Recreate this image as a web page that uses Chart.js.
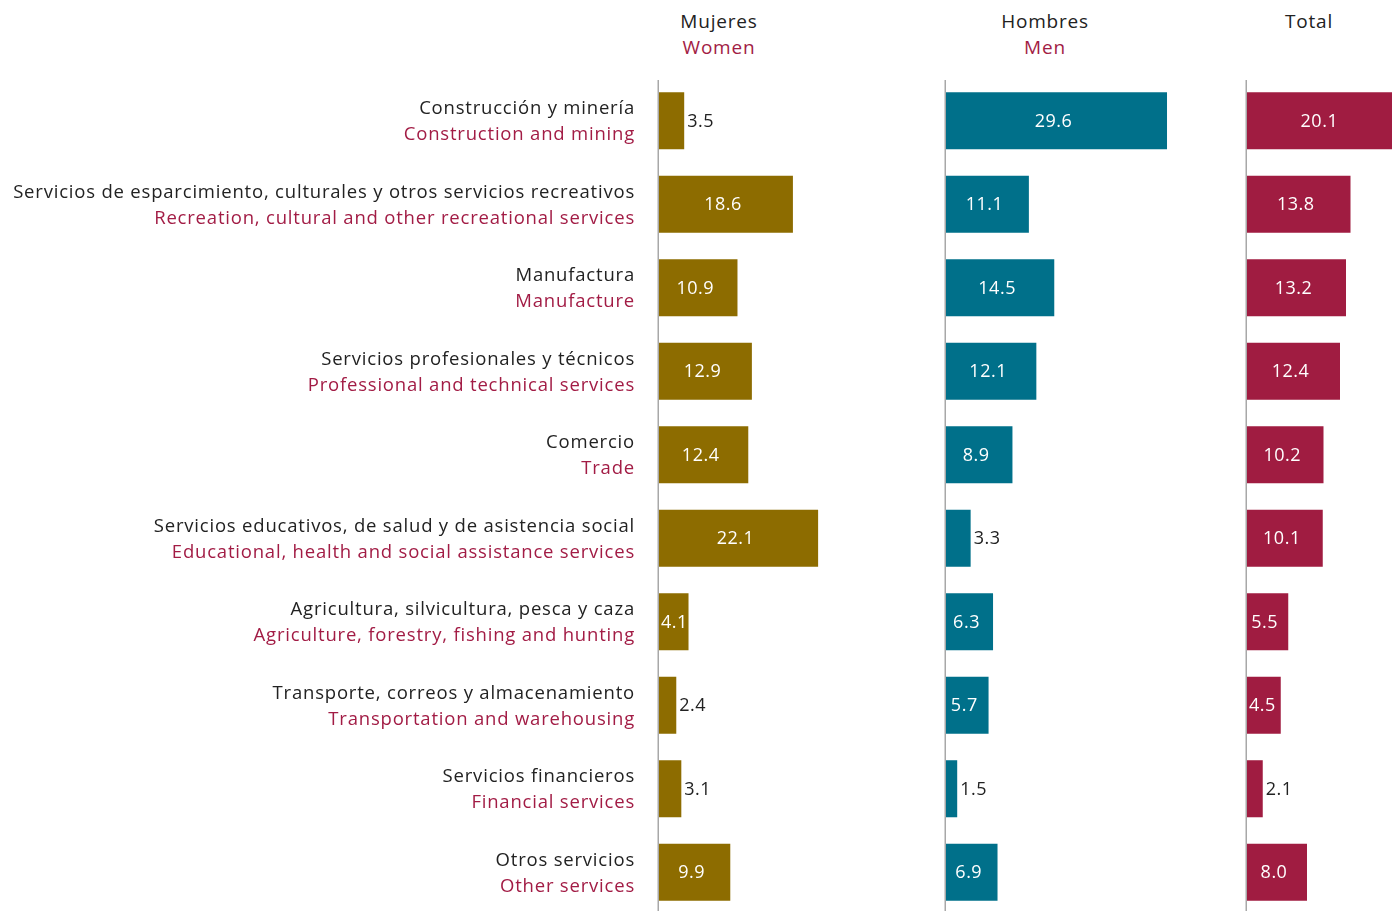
<!DOCTYPE html>
<html>
<head>
<meta charset="utf-8">
<script src="https://cdn.jsdelivr.net/npm/chart.js@4"></script>
<style>
  html, body { margin: 0; padding: 0; width: 1392px; height: 911px; overflow: hidden; background: #fff; }
  body { position: relative; font-family: 'Open Sans', sans-serif; }
  canvas { position: absolute; top: 0; }
  .hdr { position: absolute; top: 8px; width: 200px; text-align: center; font-size: 19px; line-height: 26px; letter-spacing: 0.8px; color: #222; }
  .hdr span { display: block; color: #a21c45; }
</style>
</head>
<body>
<div class="hdr" style="left:619px">Mujeres<span>Women</span></div>
<div class="hdr" style="left:945px">Hombres<span>Men</span></div>
<div class="hdr" style="left:1209px">Total</div>

<canvas id="cWomen" width="875" height="914" style="left:0"></canvas>
<canvas id="cMen" width="270" height="914" style="left:900px"></canvas>
<canvas id="cTotal" width="272" height="914" style="left:1200px"></canvas>

<script>
// Sectors (Spanish / English)
const sectorsEs = [
  'Construcción y minería',
  'Servicios de esparcimiento, culturales y otros servicios recreativos',
  'Manufactura',
  'Servicios profesionales y técnicos',
  'Comercio',
  'Servicios educativos, de salud y de asistencia social',
  'Agricultura, silvicultura, pesca y caza',
  'Transporte, correos y almacenamiento',
  'Servicios financieros',
  'Otros servicios'
];
const sectorsEn = [
  'Construction and mining',
  'Recreation, cultural and other recreational services',
  'Manufacture',
  'Professional and technical services',
  'Trade',
  'Educational, health and social assistance services',
  'Agriculture, forestry, fishing and hunting',
  'Transportation and warehousing',
  'Financial services',
  'Other services'
];

// Percentages
const women = [3.5, 18.6, 10.9, 12.9, 12.4, 22.1, 4.1, 2.4, 3.1, 9.9];
const men   = [29.6, 11.1, 14.5, 12.1, 8.9, 3.3, 6.3, 5.7, 1.5, 6.9];
const total = [20.1, 13.8, 13.2, 12.4, 10.2, 10.1, 5.5, 4.5, 2.1, 8.0];

const FONT = "'Open Sans', sans-serif";
const INSIDE_MIN = 4;

// Vertical baseline at zero for each panel
const axisLine = {
  id: 'axisLine',
  beforeDatasetsDraw(chart) {
    const { ctx, chartArea } = chart;
    const x0 = chart.scales.x.getPixelForValue(0) - 0.75;
    ctx.save();
    ctx.strokeStyle = '#a8a8a8';
    ctx.lineWidth = 1.5;
    ctx.beginPath();
    ctx.moveTo(x0, chartArea.top + 1);
    ctx.lineTo(x0, chartArea.bottom);
    ctx.stroke();
    ctx.restore();
  }
};

// Value labels: inside (white) for wide bars, outside (dark) for short ones
const valueLabels = {
  id: 'valueLabels',
  afterDatasetsDraw(chart) {
    const { ctx } = chart;
    const ds = chart.data.datasets[0];
    const meta = chart.getDatasetMeta(0);
    ctx.save();
    ctx.font = '18px ' + FONT;
    ctx.letterSpacing = '0.5px';
    ctx.textBaseline = 'middle';
    meta.data.forEach((bar, i) => {
      const v = ds.data[i];
      const txt = v.toFixed(1);
      if (v >= INSIDE_MIN) {
        const tw = ctx.measureText(txt).width;
        let cx = (bar.base + bar.x) / 2 - 3;
        if (cx - tw / 2 < bar.base + 2) cx = bar.base + 2 + tw / 2;
        ctx.fillStyle = '#ffffff';
        ctx.textAlign = 'center';
        ctx.fillText(txt, cx, bar.y + 1);
      } else {
        ctx.fillStyle = '#222222';
        ctx.textAlign = 'left';
        ctx.fillText(txt, bar.x + 3, bar.y + 1);
      }
    });
    ctx.restore();
  }
};

// Bilingual sector names to the left of the first panel
const sectorLabels = {
  id: 'sectorLabels',
  afterDraw(chart) {
    const { ctx } = chart;
    const yScale = chart.scales.y;
    ctx.save();
    ctx.font = '18.5px ' + FONT;
    ctx.letterSpacing = '0.8px';
    ctx.textAlign = 'right';
    ctx.textBaseline = 'middle';
    sectorsEs.forEach((es, i) => {
      const y = yScale.getPixelForValue(i);
      ctx.fillStyle = '#222222';
      ctx.fillText(es, 635, y - 12);
      ctx.fillStyle = '#a21c45';
      ctx.fillText(sectorsEn[i], 635, y + 14);
    });
    ctx.restore();
  }
};

function panel(id, values, color, padLeft, withSectors) {
  return new Chart(document.getElementById(id), {
    type: 'bar',
    data: {
      labels: sectorsEs,
      datasets: [{
        data: values,
        backgroundColor: color,
        borderWidth: 0,
        barPercentage: 0.683,
        categoryPercentage: 1.0
      }]
    },
    options: {
      indexAxis: 'y',
      responsive: false,
      animation: false,
      devicePixelRatio: 1,
      layout: { padding: { left: padLeft, top: 79, right: 0, bottom: 0 } },
      plugins: { legend: { display: false }, tooltip: { enabled: false }, title: { display: false } },
      scales: {
        x: { display: false, min: 0, max: 30 },
        y: { display: false, offset: true }
      }
    },
    plugins: withSectors ? [axisLine, valueLabels, sectorLabels] : [axisLine, valueLabels]
  });
}

panel('cWomen', women, '#8d6c00', 659, true);
panel('cMen', men, '#00708a', 46, false);
panel('cTotal', total, '#a01c41', 47, false);
</script>
</body>
</html>
